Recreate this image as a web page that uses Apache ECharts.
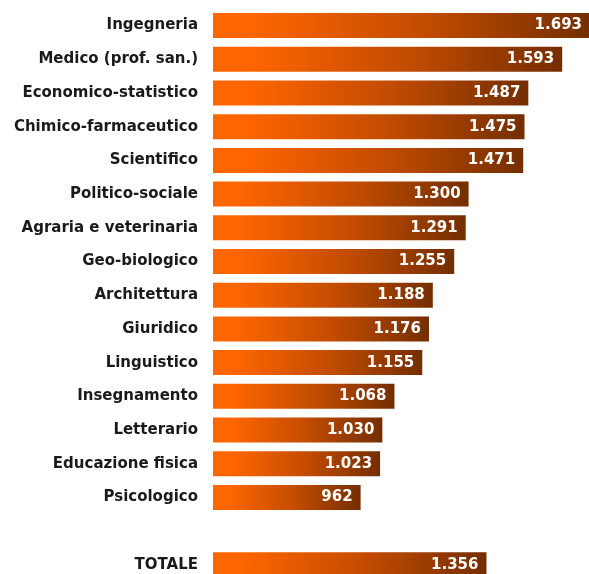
<!DOCTYPE html>
<html>
<head>
<meta charset="utf-8">
<script src="https://cdn.jsdelivr.net/npm/echarts@6/dist/echarts.min.js"></script>
<style>html,body{margin:0;padding:0;background:#fff}#c{width:589px;height:574px}</style>
</head>
<body>
<div id="c"></div>
<script>
const categories = ['Ingegneria','Medico (prof. san.)','Economico-statistico','Chimico-farmaceutico','Scientifico','Politico-sociale','Agraria e veterinaria','Geo-biologico','Architettura','Giuridico','Linguistico','Insegnamento','Letterario','Educazione fisica','Psicologico','','TOTALE'];
const values = [1693,1593,1487,1475,1471,1300,1291,1255,1188,1176,1155,1068,1030,1023,962,null,1356];

const chart = echarts.init(document.getElementById('c'), null, {renderer:'canvas'});
const grad = new echarts.graphic.LinearGradient(0,0,1,0,[
  {offset:0,color:'#FF6600'},
  {offset:0.1,color:'#FF6600'},
  {offset:0.55,color:'#C44C00'},
  {offset:1,color:'#742E00'}
]);
chart.setOption({
  animation:false,
  grid:{left:213,width:377,top:8.7,height:573,containLabel:false,outerBoundsMode:'none'},
  xAxis:{type:'value',min:500,max:1680,show:false},
  yAxis:{type:'category',data:categories,inverse:true,
    axisLine:{show:false},axisTick:{show:false},
    axisLabel:{margin:15,color:'#1a1a1a',fontFamily:'DejaVu Sans',fontWeight:'bold',fontSize:15}},
  series:[{type:'bar',data:values,barWidth:25,clip:true,
    itemStyle:{color:grad},
    label:{show:true,position:'insideRight',distance:8,color:'#fff',fontFamily:'DejaVu Sans',fontWeight:'bold',fontSize:15,
      formatter:p=>p.value==null?'':(p.value>=1000?Math.floor(p.value/1000)+'.'+String(p.value%1000).padStart(3,'0'):String(p.value))}
  }]
});
</script>
</body>
</html>
